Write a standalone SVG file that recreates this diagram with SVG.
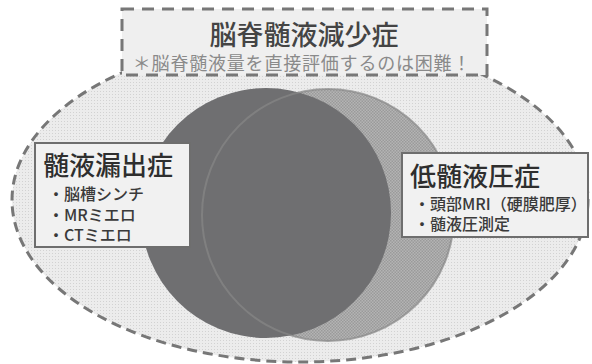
<svg xmlns="http://www.w3.org/2000/svg" width="592" height="364" viewBox="0 0 592 364">
<defs>
<pattern id="dots" width="3" height="3" patternUnits="userSpaceOnUse">
<rect width="3" height="3" fill="#ececec"/>
<rect x="1" y="1" width="1" height="1" fill="#d2d2d2"/>
</pattern>
<pattern id="hatch" width="3" height="3" patternUnits="userSpaceOnUse">
<rect width="3" height="3" fill="#b4b4b4"/>
<rect x="0" y="0" width="1.5" height="1.5" fill="#9a9a9a"/>
<rect x="1.5" y="1.5" width="1.5" height="1.5" fill="#9a9a9a"/>
</pattern>
<style>
.jp{font-family:"Noto Sans CJK JP","Noto Sans CJK SC",sans-serif;}
.box{fill:#f1f1f1;stroke:#6e6e6e;stroke-width:2;}
.head{font-size:26px;fill:#2e2e2e;font-weight:500;}
.item{font-size:16px;fill:#3a3a3a;font-weight:500;}
</style>
</defs>
<g id="outer">
<ellipse cx="300" cy="200" rx="288" ry="162" fill="url(#dots)" stroke="#777" stroke-width="3" stroke-dasharray="10 6"/>
</g>
<g id="title">
<rect x="122" y="9" width="365" height="66" fill="#efefef" stroke="#777" stroke-width="3" stroke-dasharray="12 8"/>
<text class="jp" x="304" y="45" font-size="27" font-weight="500" fill="#444" text-anchor="middle">脳脊髄液減少症</text>
<text class="jp" x="302" y="70" font-size="18" fill="#8a8a8a" text-anchor="middle" letter-spacing="0.8">＊脳脊髄液量を直接評価するのは困難！</text>
</g>
<g id="low-pressure-circle">
<circle cx="328" cy="215" r="126" fill="url(#hatch)"/>
</g>
<g id="leak-circle">
<circle cx="266" cy="213" r="125" fill="#6f6f71"/>
</g>
<g id="connectors">
<circle cx="328" cy="215" r="126" fill="none" stroke="#888" stroke-width="2" stroke-opacity="0.7"/>
</g>
<g id="leak-box">
<rect class="box" x="35" y="143" width="155" height="104"/>
<text class="jp head" x="43" y="175">髄液漏出症</text>
<text class="jp item" x="48" y="200">・脳槽シンチ</text>
<text class="jp item" x="48" y="221">・MRミエロ</text>
<text class="jp item" x="48" y="241">・CTミエロ</text>
</g>
<g id="pressure-box">
<rect class="box" x="402" y="153" width="186" height="84"/>
<text class="jp head" x="410" y="186" font-size="25">低髄液圧症</text>
<text class="jp item" x="414" y="210">・頭部MRI（硬膜肥厚）</text>
<text class="jp item" x="414" y="230">・髄液圧測定</text>
</g>
</svg>
